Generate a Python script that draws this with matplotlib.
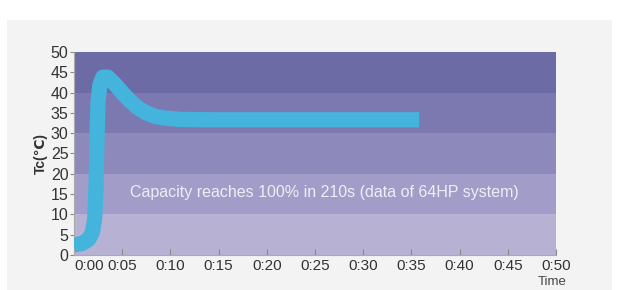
import matplotlib
matplotlib.use("Agg")
import matplotlib.pyplot as plt
from matplotlib.patches import Rectangle

plt.rcParams['font.family'] = ['Liberation Sans', 'DejaVu Sans']

# Tc curve (x in the chart's time units, y in degC)
time_vals = [0, 0.8, 1.5, 1.9, 2.15, 2.3, 2.4, 2.5, 2.7, 3.0, 3.5, 4.2, 5.0, 5.8,
             6.6, 7.5, 8.5, 9.5, 11, 14, 20, 35.8]
tc_vals = [2.5, 2.8, 3.8, 5.5, 9, 18, 30, 38, 42, 43.8, 43.8, 42.2, 40.0, 38.0,
           36.3, 35.0, 34.1, 33.7, 33.4, 33.3, 33.3, 33.3]

band_edges = [0, 10, 20, 30, 40, 50]
band_colors = ['#b7b2d4', '#a29dc8', '#8e89bb', '#7c79b0', '#6d6ba6']

xticks = [0, 5, 10, 15, 20, 25, 30, 35, 40, 45, 50]
xtick_labels = ['0:00', '0:05', '0:10', '0:15', '0:20', '0:25', '0:30', '0:35',
                '0:40', '0:45', '0:50']
yticks = list(range(0, 51, 5))

note = "Capacity reaches 100% in 210s (data of 64HP system)"

fig = plt.figure(figsize=(6.18, 2.90), dpi=100)
fig.patch.set_facecolor('white')
fig.patches.append(Rectangle((0.012, 0.0), 0.978, 0.93, transform=fig.transFigure,
                             facecolor='#f3f3f3', edgecolor='none', zorder=-10))

ax = fig.add_axes([0.1197, 0.1207, 0.78, 0.70])
ax.set_facecolor('none')

# background bands
for i in range(len(band_colors)):
    ax.axhspan(band_edges[i], band_edges[i + 1], color=band_colors[i], lw=0, zorder=0)

ax.plot(time_vals, tc_vals, color='#45b4dc', lw=11, solid_capstyle='butt',
        solid_joinstyle='round', zorder=3)

ax.text(26, 15.5, note, color='#eeedf5', fontsize=11.5, ha='center', va='center',
        zorder=4)

ax.set_xlim(0, 50)
ax.set_ylim(0, 50)
ax.set_xticks(xticks)
ax.set_xticklabels(xtick_labels)
ax.set_yticks(yticks)
ax.tick_params(axis='x', direction='in', length=4, color='#888888',
               labelsize=11, labelcolor='#333333', pad=3)
ax.tick_params(axis='y', direction='out', length=3, color='#888888',
               labelsize=11.5, labelcolor='#333333', pad=1)
ax.get_xticklabels()[0].set_horizontalalignment('left')

for s in ['top', 'right']:
    ax.spines[s].set_visible(False)
for s in ['left', 'bottom']:
    ax.spines[s].set_color('#aaaaaa')
    ax.spines[s].set_linewidth(0.8)

ax.set_ylabel('Tc(℃)', fontsize=10, fontweight='bold', color='#333333', labelpad=2)
fig.text(0.893, 0.008, 'Time', fontsize=9.5, color='#444444', ha='center', va='bottom')

fig.savefig('out.png', dpi=100)
